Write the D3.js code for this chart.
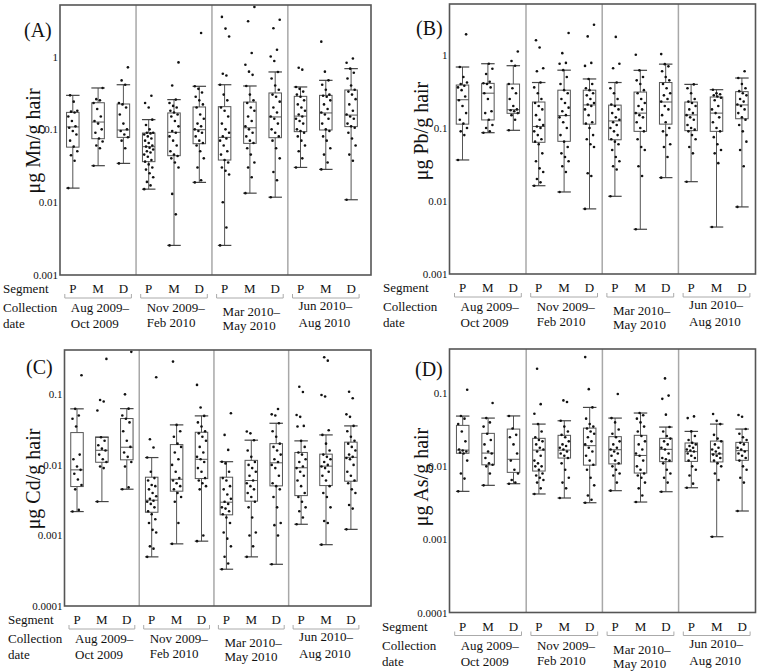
<!DOCTYPE html>
<html>
<head>
<meta charset="utf-8">
<script src="https://cdn.jsdelivr.net/npm/d3@7"></script>
<style>
  body { margin: 0; background: #fff; }
  svg { display: block; }
  text { font-family: "Liberation Serif", "DejaVu Serif", serif; fill: #111; }
</style>
</head>
<body>
<div id="chart"></div>
<script>
// segments and collection periods
var segments = ["P", "M", "D"];
var periods = [["Aug 2009\u2013", "Oct 2009"], ["Nov 2009\u2013", "Feb 2010"],
               ["Mar 2010\u2013", "May 2010"], ["Jun 2010\u2013", "Aug 2010"]];

// box stats per box: [whisker low, q1, median, q3, whisker high]
var mnBoxes = [
  [0.0156, 0.057, 0.108, 0.171, 0.293], [0.0317, 0.0744, 0.126, 0.232, 0.37], [0.0341, 0.0776, 0.098, 0.223, 0.41],
  [0.0151, 0.036, 0.0578, 0.089, 0.136], [0.00255, 0.0435, 0.091, 0.168, 0.256], [0.0187, 0.0635, 0.0989, 0.203, 0.39],
  [0.00255, 0.0379, 0.0776, 0.205, 0.41], [0.0133, 0.0642, 0.105, 0.237, 0.394], [0.0117, 0.0768, 0.148, 0.316, 0.614],
  [0.03, 0.093, 0.152, 0.284, 0.382], [0.0282, 0.098, 0.168, 0.293, 0.471], [0.0108, 0.109, 0.157, 0.347, 0.682]
];
var pbBoxes = [
  [0.0365, 0.113, 0.244, 0.388, 0.685], [0.0863, 0.129, 0.30, 0.409, 0.76], [0.093, 0.159, 0.178, 0.40, 0.714],
  [0.0162, 0.0637, 0.105, 0.227, 0.42], [0.0133, 0.0657, 0.148, 0.33, 0.62], [0.0078, 0.113, 0.207, 0.33, 0.47],
  [0.0116, 0.069, 0.125, 0.206, 0.42], [0.0041, 0.09, 0.16, 0.311, 0.617], [0.0209, 0.113, 0.227, 0.42, 0.75],
  [0.0184, 0.092, 0.151, 0.227, 0.396], [0.0044, 0.09, 0.16, 0.266, 0.335], [0.0083, 0.134, 0.207, 0.315, 0.484]
];
var cdBoxes = [
  [0.00218, 0.00493, 0.0085, 0.0287, 0.0623], [0.00302, 0.0109, 0.0161, 0.0247, 0.0247], [0.00452, 0.0118, 0.0178, 0.0454, 0.0627],
  [0.000497, 0.00213, 0.00316, 0.00669, 0.0127], [0.00076, 0.00424, 0.00626, 0.0194, 0.0369], [0.00083, 0.0064, 0.012, 0.029, 0.0495],
  [0.000332, 0.00196, 0.00296, 0.00669, 0.0111], [0.000497, 0.00306, 0.006, 0.0116, 0.0224], [0.00039, 0.00504, 0.0107, 0.020, 0.0389],
  [0.00144, 0.00367, 0.0091, 0.015, 0.0219], [0.00074, 0.00509, 0.0096, 0.0142, 0.0266], [0.00122, 0.00587, 0.0128, 0.021, 0.0357]
];
var asBoxes = [
  [0.00455, 0.0151, 0.0167, 0.0364, 0.0488], [0.0055, 0.0105, 0.0152, 0.0283, 0.0458], [0.00579, 0.00828, 0.0125, 0.0324, 0.049],
  [0.00419, 0.00863, 0.0167, 0.0242, 0.0379], [0.00369, 0.013, 0.0167, 0.0266, 0.0421], [0.00318, 0.0104, 0.0192, 0.0334, 0.0641],
  [0.00465, 0.0108, 0.0169, 0.0255, 0.0458], [0.00325, 0.0081, 0.0141, 0.0266, 0.0537], [0.0045, 0.0116, 0.0171, 0.0242, 0.0345],
  [0.0051, 0.0117, 0.0159, 0.0209, 0.0301], [0.00109, 0.0115, 0.0148, 0.0222, 0.0379], [0.00245, 0.0121, 0.0164, 0.0213, 0.0324]
];

// individual hair samples per box (ug/g)
var mnPoints = [
  [0.0156, 0.037, 0.044, 0.05, 0.058, 0.07, 0.085, 0.095, 0.105, 0.11, 0.13, 0.15, 0.17, 0.175, 0.18, 0.24, 0.293],
  [0.0317, 0.055, 0.06, 0.068, 0.075, 0.09, 0.1, 0.12, 0.13, 0.15, 0.19, 0.23, 0.25, 0.26, 0.37],
  [0.0341, 0.055, 0.07, 0.078, 0.085, 0.095, 0.1, 0.12, 0.16, 0.2, 0.22, 0.23, 0.41, 0.47, 0.71],
  [0.0151, 0.017, 0.019, 0.022, 0.025, 0.028, 0.03, 0.033, 0.036, 0.038, 0.042, 0.045, 0.048, 0.05, 0.053, 0.056, 0.058, 0.06, 0.065, 0.07, 0.075, 0.08, 0.085, 0.088, 0.09, 0.09, 0.1, 0.115, 0.136, 0.2, 0.23, 0.29],
  [0.00255, 0.0068, 0.013, 0.03, 0.035, 0.04, 0.043, 0.045, 0.05, 0.06, 0.07, 0.08, 0.09, 0.095, 0.11, 0.13, 0.15, 0.16, 0.17, 0.18, 0.2, 0.21, 0.23, 0.256, 0.4, 0.83],
  [0.0187, 0.02, 0.03, 0.04, 0.05, 0.06, 0.065, 0.07, 0.08, 0.09, 0.095, 0.1, 0.11, 0.12, 0.14, 0.16, 0.2, 0.22, 0.25, 0.28, 0.32, 0.36, 0.39, 2.1],
  [0.00255, 0.0045, 0.01, 0.024, 0.027, 0.03, 0.035, 0.038, 0.045, 0.05, 0.06, 0.07, 0.075, 0.08, 0.09, 0.1, 0.12, 0.15, 0.18, 0.2, 0.25, 0.3, 0.41, 0.55, 0.58, 1.88, 2.42, 3.5],
  [0.0133, 0.022, 0.03, 0.035, 0.045, 0.055, 0.065, 0.07, 0.08, 0.09, 0.1, 0.11, 0.13, 0.15, 0.18, 0.2, 0.23, 0.25, 0.3, 0.394, 0.56, 0.62, 0.77, 1.12, 3.05, 4.8],
  [0.0117, 0.02, 0.026, 0.04, 0.055, 0.07, 0.08, 0.09, 0.1, 0.12, 0.14, 0.15, 0.17, 0.2, 0.24, 0.28, 0.3, 0.35, 0.4, 0.5, 0.614, 0.87, 1.0, 1.24, 2.45, 3.2],
  [0.03, 0.04, 0.05, 0.06, 0.07, 0.08, 0.09, 0.095, 0.1, 0.12, 0.13, 0.14, 0.15, 0.16, 0.18, 0.2, 0.22, 0.25, 0.28, 0.3, 0.33, 0.36, 0.382, 0.66, 0.7],
  [0.0282, 0.035, 0.045, 0.055, 0.07, 0.08, 0.095, 0.1, 0.12, 0.14, 0.16, 0.17, 0.19, 0.22, 0.25, 0.28, 0.29, 0.3, 0.35, 0.41, 0.471, 0.62, 1.6],
  [0.0108, 0.037, 0.045, 0.06, 0.075, 0.09, 0.105, 0.11, 0.12, 0.14, 0.15, 0.16, 0.18, 0.22, 0.26, 0.3, 0.33, 0.35, 0.4, 0.5, 0.6, 0.682, 0.82, 0.94]
];
var pbPoints = [
  [0.0365, 0.08, 0.09, 0.1, 0.115, 0.13, 0.16, 0.2, 0.24, 0.27, 0.33, 0.36, 0.38, 0.4, 0.42, 0.5, 0.685, 1.92],
  [0.0863, 0.09, 0.1, 0.11, 0.13, 0.16, 0.17, 0.25, 0.3, 0.36, 0.4, 0.41, 0.43, 0.55, 0.65, 0.76],
  [0.093, 0.13, 0.15, 0.16, 0.17, 0.175, 0.18, 0.2, 0.25, 0.3, 0.35, 0.4, 0.714, 0.83, 1.12],
  [0.0162, 0.018, 0.02, 0.025, 0.028, 0.035, 0.045, 0.06, 0.065, 0.07, 0.08, 0.09, 0.1, 0.105, 0.11, 0.13, 0.15, 0.18, 0.2, 0.22, 0.25, 0.3, 0.36, 0.42, 0.6, 0.66, 1.27, 1.59],
  [0.0133, 0.025, 0.03, 0.035, 0.04, 0.045, 0.055, 0.065, 0.08, 0.1, 0.12, 0.14, 0.15, 0.17, 0.19, 0.22, 0.25, 0.3, 0.33, 0.4, 0.5, 0.62, 0.76, 0.78, 1.06, 2.0],
  [0.0078, 0.022, 0.024, 0.055, 0.06, 0.07, 0.08, 0.1, 0.115, 0.12, 0.15, 0.18, 0.2, 0.21, 0.22, 0.25, 0.28, 0.3, 0.33, 0.35, 0.4, 0.47, 0.71, 0.78, 1.8, 2.6],
  [0.0116, 0.027, 0.03, 0.035, 0.04, 0.05, 0.06, 0.065, 0.07, 0.08, 0.09, 0.1, 0.11, 0.12, 0.13, 0.14, 0.16, 0.18, 0.2, 0.21, 0.25, 0.3, 0.35, 0.42, 0.66, 0.76, 1.77],
  [0.0041, 0.022, 0.03, 0.05, 0.055, 0.07, 0.09, 0.1, 0.12, 0.14, 0.15, 0.16, 0.18, 0.2, 0.22, 0.25, 0.3, 0.33, 0.4, 0.45, 0.5, 0.617, 1.01],
  [0.0209, 0.04, 0.055, 0.06, 0.08, 0.09, 0.1, 0.12, 0.15, 0.18, 0.2, 0.23, 0.25, 0.28, 0.3, 0.35, 0.4, 0.45, 0.5, 0.6, 0.7, 0.75, 1.03],
  [0.0184, 0.045, 0.055, 0.07, 0.08, 0.09, 0.095, 0.1, 0.11, 0.13, 0.14, 0.15, 0.16, 0.18, 0.2, 0.22, 0.23, 0.25, 0.3, 0.35, 0.396],
  [0.0044, 0.033, 0.045, 0.05, 0.06, 0.075, 0.09, 0.1, 0.12, 0.14, 0.16, 0.18, 0.2, 0.24, 0.26, 0.27, 0.28, 0.29, 0.3, 0.335],
  [0.0083, 0.03, 0.05, 0.065, 0.09, 0.11, 0.13, 0.14, 0.16, 0.18, 0.2, 0.21, 0.23, 0.25, 0.28, 0.3, 0.32, 0.35, 0.4, 0.484, 0.6]
];
var cdPoints = [
  [0.00218, 0.0023, 0.0045, 0.0052, 0.0062, 0.0075, 0.0085, 0.0095, 0.012, 0.014, 0.035, 0.045, 0.05, 0.0623, 0.186],
  [0.00302, 0.009, 0.0095, 0.011, 0.012, 0.014, 0.016, 0.017, 0.019, 0.022, 0.0247, 0.0589, 0.079, 0.083, 0.318],
  [0.00452, 0.0048, 0.0095, 0.011, 0.013, 0.015, 0.018, 0.022, 0.03, 0.04, 0.045, 0.05, 0.0627, 0.1, 0.4],
  [0.000497, 0.00065, 0.0007, 0.0011, 0.0012, 0.0015, 0.0017, 0.002, 0.0022, 0.0025, 0.0028, 0.003, 0.0031, 0.0033, 0.0036, 0.004, 0.0045, 0.005, 0.0052, 0.006, 0.0065, 0.008, 0.0127, 0.0176, 0.0231, 0.175],
  [0.00076, 0.0015, 0.003, 0.0035, 0.004, 0.0045, 0.005, 0.0055, 0.006, 0.0065, 0.008, 0.01, 0.012, 0.015, 0.018, 0.02, 0.025, 0.03, 0.0369, 0.291],
  [0.00083, 0.001, 0.0045, 0.005, 0.0055, 0.006, 0.0065, 0.008, 0.009, 0.011, 0.012, 0.013, 0.015, 0.018, 0.022, 0.025, 0.028, 0.03, 0.035, 0.04, 0.0495, 0.065, 0.136],
  [0.000332, 0.0004, 0.0005, 0.0007, 0.0009, 0.0011, 0.0015, 0.0018, 0.002, 0.0022, 0.0024, 0.0025, 0.0028, 0.003, 0.0033, 0.0038, 0.0045, 0.005, 0.006, 0.0065, 0.008, 0.0105, 0.0111, 0.0163, 0.0266, 0.054],
  [0.000497, 0.0007, 0.001, 0.0011, 0.0018, 0.0025, 0.003, 0.0035, 0.004, 0.0045, 0.005, 0.0055, 0.006, 0.007, 0.008, 0.009, 0.01, 0.011, 0.013, 0.016, 0.0224, 0.028, 0.0297],
  [0.00039, 0.001, 0.0014, 0.0015, 0.0025, 0.0035, 0.0045, 0.005, 0.0055, 0.007, 0.009, 0.01, 0.011, 0.012, 0.014, 0.016, 0.018, 0.02, 0.025, 0.03, 0.0389, 0.05, 0.052, 0.062],
  [0.00144, 0.0018, 0.0022, 0.0025, 0.003, 0.0035, 0.004, 0.005, 0.006, 0.007, 0.008, 0.009, 0.0095, 0.011, 0.012, 0.014, 0.015, 0.018, 0.0219, 0.035, 0.0357, 0.048, 0.051, 0.108, 0.128],
  [0.00074, 0.0015, 0.0016, 0.0025, 0.0035, 0.004, 0.005, 0.006, 0.007, 0.008, 0.009, 0.0095, 0.01, 0.011, 0.012, 0.013, 0.014, 0.016, 0.02, 0.0266, 0.031, 0.093, 0.098, 0.3, 0.336],
  [0.00122, 0.0024, 0.0027, 0.004, 0.0045, 0.0055, 0.006, 0.007, 0.008, 0.01, 0.012, 0.0125, 0.013, 0.014, 0.016, 0.018, 0.02, 0.022, 0.025, 0.03, 0.0357, 0.048, 0.052, 0.088, 0.109]
];
var asPoints = [
  [0.00455, 0.0068, 0.008, 0.012, 0.015, 0.0155, 0.016, 0.0165, 0.017, 0.022, 0.03, 0.038, 0.045, 0.0488, 0.112],
  [0.0055, 0.008, 0.01, 0.0105, 0.011, 0.013, 0.015, 0.016, 0.02, 0.023, 0.028, 0.035, 0.04, 0.0458, 0.0735],
  [0.00579, 0.006, 0.0065, 0.008, 0.009, 0.012, 0.015, 0.02, 0.025, 0.027, 0.033, 0.049],
  [0.00419, 0.005, 0.006, 0.0065, 0.007, 0.0075, 0.008, 0.009, 0.01, 0.01, 0.011, 0.012, 0.014, 0.016, 0.017, 0.018, 0.02, 0.022, 0.023, 0.025, 0.03, 0.0379, 0.0525, 0.071, 0.217],
  [0.00369, 0.005, 0.006, 0.007, 0.009, 0.011, 0.013, 0.014, 0.015, 0.016, 0.017, 0.018, 0.019, 0.02, 0.022, 0.025, 0.027, 0.03, 0.035, 0.0421, 0.076, 0.08],
  [0.00318, 0.0035, 0.004, 0.0055, 0.007, 0.009, 0.0105, 0.012, 0.014, 0.016, 0.018, 0.02, 0.022, 0.025, 0.028, 0.03, 0.033, 0.035, 0.038, 0.045, 0.0641, 0.114, 0.313],
  [0.00465, 0.006, 0.0075, 0.008, 0.009, 0.01, 0.011, 0.012, 0.014, 0.015, 0.016, 0.017, 0.018, 0.02, 0.022, 0.025, 0.028, 0.032, 0.04, 0.0458, 0.098],
  [0.00325, 0.004, 0.005, 0.006, 0.007, 0.0075, 0.008, 0.009, 0.01, 0.012, 0.014, 0.015, 0.017, 0.02, 0.022, 0.026, 0.03, 0.035, 0.04, 0.045, 0.05, 0.0537],
  [0.0045, 0.006, 0.007, 0.008, 0.009, 0.011, 0.012, 0.0125, 0.013, 0.015, 0.017, 0.018, 0.02, 0.022, 0.024, 0.026, 0.03, 0.0345, 0.051, 0.084, 0.093, 0.16],
  [0.0051, 0.0058, 0.0075, 0.009, 0.01, 0.012, 0.013, 0.014, 0.015, 0.016, 0.0165, 0.017, 0.018, 0.019, 0.02, 0.021, 0.023, 0.026, 0.0301, 0.0458, 0.0483],
  [0.00109, 0.0065, 0.008, 0.01, 0.011, 0.012, 0.013, 0.014, 0.0145, 0.015, 0.016, 0.017, 0.018, 0.02, 0.022, 0.024, 0.027, 0.0379, 0.042, 0.052],
  [0.00245, 0.006, 0.007, 0.009, 0.01, 0.012, 0.013, 0.014, 0.015, 0.016, 0.017, 0.018, 0.02, 0.021, 0.023, 0.025, 0.028, 0.0324, 0.0478, 0.0504]
];

// y tick values
var ticksHigh = [0.001, 0.01, 0.1, 1];
var ticksLow = [0.0001, 0.001, 0.01, 0.1];

var width = 758;
var height = 671;
var serif = "'Liberation Serif', 'DejaVu Serif', serif";

var svg = d3.select("#chart")
   .append("svg")
   .attr("width", width)
   .attr("height", height);

var panels = [
  { tag: "(A)", ylab: "\u03bcg Mn/g hair", boxes: mnBoxes, points: mnPoints, ticks: ticksHigh,
    domain: [0.001, 5.1], left: 60, top: 5, right: 371, bottom: 275, x0: 72.8, step: 25.3,
    tagX: 24, tagY: 37, ylabX: 40, ylabY: 141, segX: 3 },
  { tag: "(B)", ylab: "\u03bcg Pb/g hair", boxes: pbBoxes, points: pbPoints, ticks: ticksHigh,
    domain: [0.001, 5.0], left: 449.5, top: 4, right: 755.5, bottom: 274, x0: 462.5, step: 25.4,
    tagX: 416, tagY: 35, ylabX: 428, ylabY: 131, segX: 383 },
  { tag: "(C)", ylab: "\u03bcg Cd/g hair", boxes: cdBoxes, points: cdPoints, ticks: ticksLow,
    domain: [0.0001, 0.425], left: 64.5, top: 350, right: 371, bottom: 606, x0: 77, step: 24.9,
    tagX: 26, tagY: 374, ylabX: 40, ylabY: 479, segX: 8 },
  { tag: "(D)", ylab: "\u03bcg As/g hair", boxes: asBoxes, points: asPoints, ticks: ticksLow,
    domain: [0.0001, 0.404], left: 449.5, top: 349, right: 755.5, bottom: 612.5, x0: 462.7, step: 25.4,
    tagX: 415, tagY: 376, ylabX: 428, ylabY: 477, segX: 382 }
];

// small vertical nudges of the date labels, as in the original
var dateDy1 = [0, 0, 4, -2];
var dateDy2 = [0, -1, 2, -1];

var boxW = 12.5;

panels.forEach(function(p) {
   var g = svg.append("g");
   var y = d3.scaleLog().domain(p.domain).range([p.bottom, p.top]);
   var x = d3.scaleLinear().domain([0, 11]).range([p.x0, p.x0 + 11 * p.step]);

   // period dividers
   g.selectAll("line.div")
      .data([2.5, 5.5, 8.5])
      .enter()
      .append("line")
      .attr("x1", function(d) { return x(d); })
      .attr("x2", function(d) { return x(d); })
      .attr("y1", p.top)
      .attr("y2", p.bottom)
      .attr("stroke", "#a8a8a8")
      .attr("stroke-width", 1.5);

   var box = g.selectAll("g.box")
      .data(p.boxes)
      .enter()
      .append("g");

   // whiskers
   box.append("line")
      .attr("x1", function(d, i) { return x(i); })
      .attr("x2", function(d, i) { return x(i); })
      .attr("y1", function(d) { return y(d[0]); })
      .attr("y2", function(d) { return y(d[4]); })
      .attr("stroke", "#555")
      .attr("stroke-width", 1);

   box.append("rect")
      .attr("x", function(d, i) { return x(i) - boxW / 2; })
      .attr("y", function(d) { return y(d[3]); })
      .attr("width", boxW)
      .attr("height", function(d) { return y(d[1]) - y(d[3]); })
      .attr("fill", "#fff")
      .attr("stroke", "#555")
      .attr("stroke-width", 1);

   box.append("line")
      .attr("x1", function(d, i) { return x(i) - boxW / 2; })
      .attr("x2", function(d, i) { return x(i) + boxW / 2; })
      .attr("y1", function(d) { return y(d[2]); })
      .attr("y2", function(d) { return y(d[2]); })
      .attr("stroke", "#555");

   // caps
   [0, 4].forEach(function(k) {
      box.append("line")
         .attr("x1", function(d, i) { return x(i) - boxW / 2 - 0.5; })
         .attr("x2", function(d, i) { return x(i) + boxW / 2 + 0.5; })
         .attr("y1", function(d) { return y(d[k]); })
         .attr("y2", function(d) { return y(d[k]); })
         .attr("stroke", "#444")
         .attr("stroke-width", 1.2);
   });

   // jittered points
   p.points.forEach(function(vals, i) {
      g.selectAll(null)
         .data(vals)
         .enter()
         .append("circle")
         .attr("cx", function(d, j) { return x(i) + ((j * 7) % 11 - 5) * 0.9; })
         .attr("cy", function(d) { return y(d); })
         .attr("r", 1.3)
         .attr("fill", "#111");
   });

   // frame
   g.append("rect")
      .attr("x", p.left)
      .attr("y", p.top)
      .attr("width", p.right - p.left)
      .attr("height", p.bottom - p.top)
      .attr("fill", "none")
      .attr("stroke", "#555")
      .attr("stroke-width", 1.6);

   // y axis
   var ax = g.append("g")
      .attr("transform", "translate(" + p.left + ",0)")
      .call(d3.axisLeft(y).tickValues(p.ticks).tickSize(0).tickPadding(2)
         .tickFormat(function(d) { return String(d); }));
   ax.select(".domain").remove();
   ax.selectAll("text")
      .style("font-size", "11px")
      .attr("fill", "#222");

   g.append("text")
      .attr("x", p.tagX)
      .attr("y", p.tagY)
      .attr("font-size", "20px")
      .text(p.tag);

   g.append("text")
      .attr("transform", "translate(" + p.ylabX + "," + p.ylabY + ") rotate(-90)")
      .attr("text-anchor", "middle")
      .attr("font-size", "20px")
      .text(p.ylab);

   // segment row
   g.append("text")
      .attr("x", p.segX)
      .attr("y", p.bottom + 18)
      .attr("font-size", "13px")
      .text("Segment");

   g.selectAll("text.seg")
      .data(d3.range(12))
      .enter()
      .append("text")
      .attr("x", function(d) { return x(d); })
      .attr("y", p.bottom + 18)
      .attr("text-anchor", "middle")
      .attr("font-size", "13px")
      .text(function(d) { return segments[d % 3]; });

   // brackets under each period
   periods.forEach(function(per, k) {
      var xa = x(3 * k) - 8;
      var xb = x(3 * k + 2) + 8;
      var yb = p.bottom + 23;
      g.append("path")
         .attr("d", "M" + xa + "," + (yb - 4) + "V" + yb + "H" + xb + "V" + (yb - 4))
         .attr("fill", "none")
         .attr("stroke", "#aaa")
         .attr("stroke-width", 1);

      g.append("text")
         .attr("x", x(3 * k) - 2)
         .attr("y", p.bottom + 37 + dateDy1[k])
         .attr("font-size", "13px")
         .text(per[0]);
      g.append("text")
         .attr("x", x(3 * k) - 2)
         .attr("y", p.bottom + 53 + dateDy2[k])
         .attr("font-size", "13px")
         .text(per[1]);
   });

   g.append("text")
      .attr("x", p.segX)
      .attr("y", p.bottom + 37)
      .attr("font-size", "13px")
      .text("Collection");
   g.append("text")
      .attr("x", p.segX)
      .attr("y", p.bottom + 53)
      .attr("font-size", "13px")
      .text("date");
});

svg.selectAll("text").style("font-family", serif);
</script>
</body>
</html>
